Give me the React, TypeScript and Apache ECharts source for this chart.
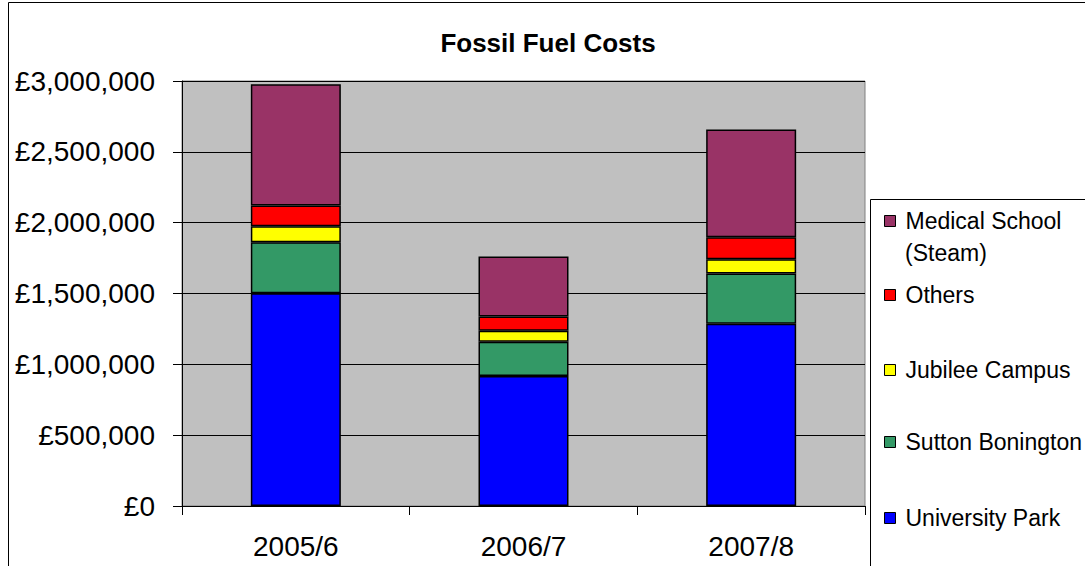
import React, { useEffect, useRef } from "react";
import * as echarts from "echarts";

const categories = ["2005/6", "2006/7", "2007/8"];
const seriesNames = [
  "University Park",
  "Sutton Bonington",
  "Jubilee Campus",
  "Others",
  "Medical School (Steam)",
];
const universityPark = [1502000, 918000, 1287000];
const suttonBonington = [359000, 242000, 354000];
const jubileeCampus = [113000, 77000, 101000];
const others = [148000, 101000, 155000];
const medicalSchool = [855000, 423000, 760000];
const seriesValues = [universityPark, suttonBonington, jubileeCampus, others, medicalSchool];
const seriesColors = ["#0000ff", "#339966", "#ffff00", "#ff0000", "#993366"];
const yTicks = { min: 0, max: 3000000, interval: 500000 };

const FONT = "'Liberation Sans', Arial, sans-serif";

function fmtPound(v: number): string {
  return "£" + String(Math.round(v)).replace(/\B(?=(\d{3})+(?!\d))/g, ",");
}

export default function App() {
  const ref = useRef<HTMLDivElement>(null);
  useEffect(() => {
    if (!ref.current) return;
    const chart = echarts.init(ref.current, null, { renderer: "svg" });
    const legendCenters: Record<string, number> = {
      "Medical School (Steam)": 221,
      Others: 295,
      "Jubilee Campus": 370,
      "Sutton Bonington": 442,
      "University Park": 518,
    };
    const legends = seriesNames.map((name) => ({
      data: [name],
      orient: "vertical",
      left: 884,
      top: legendCenters[name] - 13,
      padding: 0,
      icon: "rect",
      itemWidth: 11,
      itemHeight: 11,
      selectedMode: false,
      formatter: name === "Medical School (Steam)" ? () => "Medical School" : undefined,
      itemStyle: { borderColor: "#000", borderWidth: 1 },
      textStyle: {
        fontSize: 23,
        lineHeight: 26,
        fontFamily: FONT,
        color: "#000",
        padding: [0, 0, 0, 5],
      },
    }));
    chart.setOption({
      animation: false,
      backgroundColor: "#fff",
      title: {
        text: "Fossil Fuel Costs",
        left: 543,
        textAlign: "center",
        top: 25,
        textStyle: { fontSize: 26, fontWeight: "bold", fontFamily: FONT, color: "#000" },
      },
      graphic: [
        {
          type: "rect",
          z: -1,
          silent: true,
          shape: { x: 8.5, y: 2.5, width: 1200, height: 700 },
          style: { fill: "none", stroke: "#000", lineWidth: 1 },
        },
        {
          type: "rect",
          z: -1,
          silent: true,
          shape: { x: 870.5, y: 199.5, width: 300, height: 500 },
          style: { fill: "#fff", stroke: "#000", lineWidth: 1 },
        },
        {
          type: "text",
          x: 905,
          y: 252.7,
          style: {
            text: "(Steam)",
            fontSize: 23,
            fontFamily: FONT,
            fill: "#000",
            verticalAlign: "middle",
          },
        },
      ],
      legend: legends,
      grid: {
        left: 182,
        right: 220,
        top: 81,
        bottom: 60,
        show: true,
        backgroundColor: "#c0c0c0",
        borderColor: "#808080",
        borderWidth: 1,
      },
      xAxis: {
        type: "category",
        data: categories,
        axisLine: { lineStyle: { color: "#000", width: 1 } },
        axisTick: { show: true, length: 9, alignWithLabel: false, lineStyle: { color: "#000" } },
        axisLabel: { fontSize: 28, fontFamily: FONT, color: "#000", margin: 26 },
        splitLine: { show: false },
      },
      yAxis: {
        type: "value",
        min: yTicks.min,
        max: yTicks.max,
        interval: yTicks.interval,
        axisLine: { show: true, lineStyle: { color: "#000", width: 1 } },
        axisTick: { show: true, length: 9, lineStyle: { color: "#000" } },
        axisLabel: {
          fontSize: 28,
          fontFamily: FONT,
          color: "#000",
          margin: 27,
          formatter: (v: number) => fmtPound(v),
        },
        splitLine: { show: true, lineStyle: { color: "#000", width: 1 } },
      },
      series: seriesNames.map((name, i) => ({
        name,
        type: "bar",
        stack: "total",
        barWidth: 90,
        data: seriesValues[i],
        itemStyle: { color: seriesColors[i], borderColor: "#000", borderWidth: 1.5 },
      })),
    });
    return () => chart.dispose();
  }, []);
  return (
    <div
      ref={ref}
      style={{ position: "fixed", left: 0, top: 0, width: 1085, height: 566 }}
    />
  );
}
